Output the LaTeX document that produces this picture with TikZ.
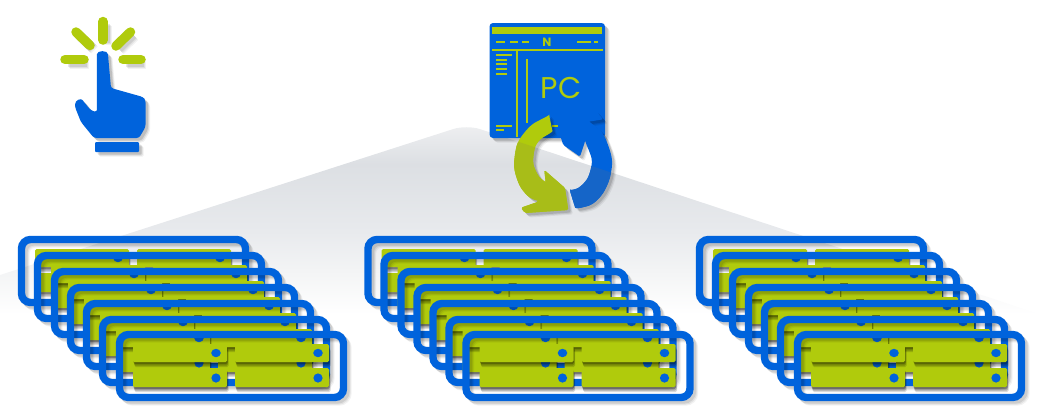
\documentclass[tikz,border=0pt]{standalone}
\usepackage{fontspec}
\newfontfamily\iconfont{Poppins}
\usetikzlibrary{shadows}

\definecolor{blueicon}{RGB}{0,99,220}
\definecolor{bluelow}{RGB}{21,101,200}
\definecolor{greenicon}{RGB}{176,203,12}
\definecolor{greenlow}{RGB}{168,189,24}
\definecolor{floordark}{RGB}{220,223,227}
\definecolor{floormid}{RGB}{232,234,237}
\definecolor{floorpale}{RGB}{243,244,245}
\definecolor{floortop}{RGB}{238,239,241}

\pgfdeclareverticalshading{floorshade}{100bp}{color(0bp)=(white); color(27bp)=(white); color(38bp)=(floorpale); color(48bp)=(floormid); color(65bp)=(floordark); color(75bp)=(floortop); color(100bp)=(floortop)}

\newcommand{\floorpath}{(0,275) [rounded corners=14pt] -- (466.7,124.7) [sharp corners] -- (1038,313.6) -- (1038,322) -- (0,322) -- cycle}
\newcommand{\greenpath}{(549.3,116) -- (552.7,132.3) -- plot[smooth] coordinates {(552.7,132.3) (541,139) (535,148) (533.3,163) (538,175) (545.7,183)} -- (544.3,170) -- (565,188) -- (568.3,210) -- (525,213) -- (521,207.7) -- (538.3,201.7) -- plot[smooth] coordinates {(538.3,201.7) (528,196) (520,186) (515,172) (514.3,160) (518.3,141.7) (531.7,125) (549.3,116)} -- cycle}
\newcommand{\bluepath}{(570,191) -- (575.7,209.3) -- plot[smooth] coordinates {(575.7,209.3) (592,204) (603,193) (610,177) (611.7,158) (603,134) (588.3,121.7)} -- (603.3,119.3) -- (595,110) -- (572,110) -- (560,116.7) -- (560,135) -- (563.3,145) -- (580,156.7) -- (585,141.7) -- plot[smooth] coordinates {(585,141.7) (591.7,160) (588.3,176.7) (580,186.7) (570,191)} -- cycle}

\begin{document}
\begin{tikzpicture}[
  x=1pt, y=-1pt,
  softfill/.style={
    preaction={fill=black, opacity=.06, transform canvas={xshift=4.5pt, yshift=-4.5pt}},
    preaction={fill=black, opacity=.09, transform canvas={xshift=3.5pt, yshift=-3.5pt}},
    preaction={fill=black, opacity=.12, transform canvas={xshift=2.5pt, yshift=-2.5pt}}},
  softline/.style={
    preaction={draw=black, line width=#1, opacity=.05, transform canvas={xshift=4.5pt, yshift=-4.5pt}},
    preaction={draw=black, line width=#1, opacity=.07, transform canvas={xshift=3.5pt, yshift=-3.5pt}},
    preaction={draw=black, line width=#1, opacity=.09, transform canvas={xshift=2.5pt, yshift=-2.5pt}}},
  rackframe/.style={draw=blueicon, line width=7.4pt, rounded corners=9pt, softline=7.4pt},
  rackbar/.style={fill=greenicon, rounded corners=1.5pt,
    preaction={fill=black, opacity=.15, transform canvas={xshift=1.5pt, yshift=-5pt}},
    preaction={fill=black, opacity=.20, transform canvas={xshift=1pt, yshift=-3.5pt}},
    preaction={fill=black, opacity=.25, transform canvas={xshift=.5pt, yshift=-2pt}}},
  rackdot/.style={fill=blueicon},
  ray/.style={draw=greenicon, line width=9.5pt, line cap=round, softline=9.5pt},
  pcline/.style={draw=greenicon, line width=1.9pt},
  rack/.pic={
    \draw[rackframe] (3.5,3.5) rectangle (227.5,66.5);
    \foreach \barx in {17,119} {
      \fill[rackbar] (\barx,13) rectangle ++(94,18);
      \fill[rackbar] (\barx,37) rectangle ++(94,19);
      \fill[rackdot] (\barx+83,22) ellipse [x radius=4.8, y radius=4.2];
      \fill[rackdot] (\barx+83,47) circle [radius=4.6];
    }
  }
]
\useasboundingbox (0,0) rectangle (1038,418);

% floor
\shade[shading=floorshade] \floorpath;

% hand
\draw[ray] (103,21.5) -- (103,40);
\draw[ray] (76,32) -- (90,45.5);
\draw[ray] (130.5,32) -- (116,46);
\draw[ray] (65,59.5) -- (84,59.5);
\draw[ray] (123,59.5) -- (141,59.5);
\fill[blueicon, softfill, rounded corners=2.5pt] (96.8,57) .. controls (96.8,50) and (108,50) .. (108.2,57) -- (111,88) -- (143,97) -- (145.5,100) -- (145.5,127) -- (139,138) -- (94,138) -- (81,122) -- (75,107) .. controls (75,100) and (81,98) .. (84,102) -- (91,110.5) -- (97,112) -- cycle;
\fill[blueicon, softfill, rounded corners=1pt] (95,142) rectangle (139,152);

% window
\fill[blueicon, softfill, rounded corners=3.5pt] (489.5,23) rectangle (605,138);
\fill[greenicon] (492,27) rectangle (602,34);
\foreach \dashfrom/\dashto in {496/505, 510/518, 522/529, 577/591, 594/598}
  \draw[pcline] (\dashfrom,42) -- (\dashto,42);
\draw[pcline] (492,50) -- (603,50);
\draw[greenicon, line width=2.8pt] (517,50) -- (517,137);
\draw[greenicon, line width=2.8pt] (527,59) -- (527,123);
\draw[pcline] (496,55) -- (512,55);
\foreach \listy in {60,64,69,74}
  \draw[pcline] (496,\listy) -- (507,\listy);
\draw[pcline] (496,126) -- (512,126);
\draw[pcline] (496,130) -- (504,130);
\draw[pcline] (552,126) -- (558,126);
\node[text=greenicon, font=\iconfont\fontsize{30}{30}\selectfont, inner sep=0pt] (pclabel) at (561,88) {PC};
\node[text=greenicon, font=\iconfont\bfseries\fontsize{12}{12}\selectfont, inner sep=0pt] (nlabel) at (547,42) {N};

% arrows
\fill[blueicon, softfill, rounded corners=1.5pt] \bluepath;
\fill[greenicon, softfill, rounded corners=1.5pt] \greenpath;
\begin{scope}
  \clip \floorpath;
  \fill[bluelow, rounded corners=1.5pt] \bluepath;
  \fill[greenlow, rounded corners=1.5pt] \greenpath;
\end{scope}

% racks
\foreach \groupx/\groupname in {18/a, 364.5/b, 696/c}
  \foreach \rackx/\racky [count=\racki] in {0/0, 16/16, 33/32, 49/48, 65/64, 81/80, 98/95}
    \pic (rack\groupname\racki) at (\groupx+\rackx,236+\racky) {rack};
\end{tikzpicture}
\end{document}
